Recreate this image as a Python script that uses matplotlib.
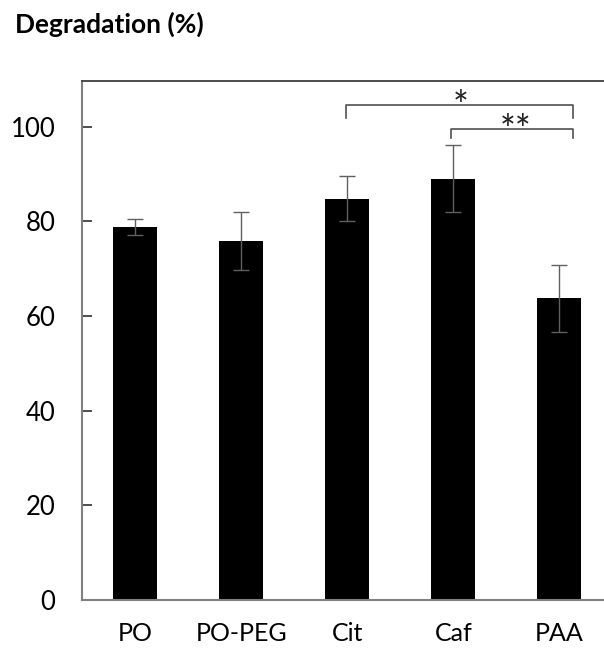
import matplotlib
matplotlib.use("Agg")
import matplotlib.pyplot as plt
import numpy as np

categories = ["PO", "PO-PEG", "Cit", "Caf", "PAA"]
values = [78.7, 75.8, 84.8, 89.0, 63.7]
errors = [1.7, 6.1, 4.8, 7.1, 7.1]
yticks = [0, 20, 40, 60, 80, 100]
brackets = [  # (x_start, x_end, y_top, y_end, label, label_x)
    (1.99, 4.13, 104.5, 101.9, "*", 3.07),
    (2.975, 4.13, 99.4, 97.6, "**", 3.59),
]

plt.rcParams['font.family'] = ['Lato', 'DejaVu Sans']

fig = plt.figure(figsize=(6.04, 6.5), dpi=100)
ax = fig.add_axes([82/604, 1-600/650, 1-82/604, (600-80.7)/650])

x = np.arange(len(categories))
ax.bar(x, values, width=0.415, color="black", edgecolor="none", zorder=2)
ax.errorbar(x, values, yerr=errors, fmt="none", ecolor="#606060",
            elinewidth=1.0, capsize=6, capthick=1.0, zorder=3)

ax.set_xlim(-0.503, 4.42)
ax.set_ylim(0, 109.7)
ax.set_yticks(yticks)
ax.set_yticklabels([str(t) for t in yticks], fontsize=18.5)
ax.set_xticks(x)
ax.set_xticklabels(categories, fontsize=18)
ax.tick_params(axis="y", direction="in", length=7, width=1.2, color="#303030", pad=19)
ax.tick_params(axis="x", length=0, pad=16)

for s in ["left", "bottom"]:
    ax.spines[s].set_color("#808080")
    ax.spines[s].set_linewidth(1.5)
ax.spines["top"].set_color("#404040")
ax.spines["top"].set_linewidth(1.3)
ax.spines["right"].set_visible(False)

for x1, x2, ytop, yend, lab, lx in brackets:
    ax.plot([x1, x1, x2, x2], [yend, ytop, ytop, yend], color="#505050",
            lw=1.2, solid_joinstyle="round", clip_on=False, zorder=4)
    ax.text(lx, ytop - 2.9, lab, ha="center", va="baseline",
            fontsize=27, color="#202020")

fig.text(15/604, 1-33/650, "Degradation (%)", fontsize=19, fontweight="bold",
         ha="left", va="baseline")

fig.savefig("out.png", dpi=100)
